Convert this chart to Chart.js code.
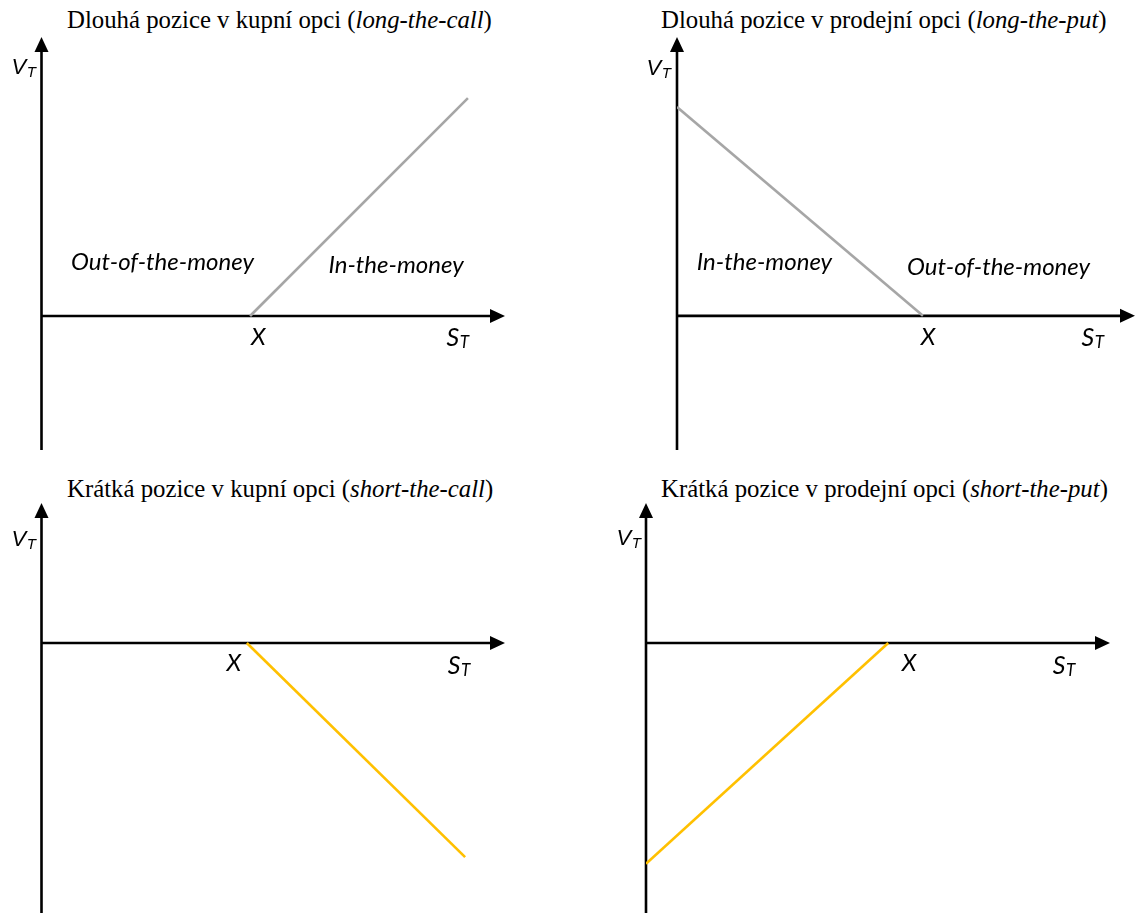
<!DOCTYPE html>
<html lang="cs">
<head>
<meta charset="utf-8">
<title>Výplatní profily opcí</title>
<script src="https://cdn.jsdelivr.net/npm/chart.js@4.4.1/dist/chart.umd.min.js"></script>
<style>
  html, body { margin: 0; padding: 0; background: #fff; }
  #board { position: relative; width: 1136px; height: 913px; overflow: hidden; }
  canvas { position: absolute; }
  .title {
    position: absolute; white-space: nowrap;
    font-family: "Liberation Serif", "Times New Roman", serif;
    font-size: 24.8px; line-height: 25px; color: #000;
  }
</style>
</head>
<body>
<div id="board">
  <div class="title" style="left:67px; top:7px;">Dlouhá pozice v kupní opci (<i>long-the-call</i>)</div>
  <div class="title" style="left:661px; top:7px;">Dlouhá pozice v prodejní opci (<i>long-the-put</i>)</div>
  <div class="title" style="left:67px; top:476px;">Krátká pozice v kupní opci (<i>short-the-call</i>)</div>
  <div class="title" style="left:661px; top:476px;">Krátká pozice v prodejní opci (<i>short-the-put</i>)</div>
  <canvas id="c1" width="568" height="460" style="left:0; top:0;"></canvas>
  <canvas id="c2" width="568" height="460" style="left:568px; top:0;"></canvas>
  <canvas id="c3" width="568" height="453" style="left:0; top:460px;"></canvas>
  <canvas id="c4" width="568" height="453" style="left:568px; top:460px;"></canvas>
</div>
<script>
// Payoff at expiry (V_T) against the underlying price at expiry (S_T).
// Units are schematic: the S axis runs 0–100 up to the arrow tip.
const longCallS  = [45, 92];
const longCallV  = [0, 47];
const longPutS   = [0, 53.7];
const longPutV   = [45.6, 0];
const shortCallS = [44.3, 91.4];
const shortCallV = [0, -46.2];
const shortPutS  = [0, 52.2];
const shortPutV  = [-47.6, 0];

// Where each panel puts the strike X
const strikes = [45, 53.7, 44.3, 52.2];

const axisLabels = { x: 'S', xSub: 'T', y: 'V', ySub: 'T', strike: 'X' };
const regionText = { itm: 'In-the-money', otm: 'Out-of-the-money' };

const GREY = '#a6a6a6';
const GOLD = '#ffc000';

function pts(xs, ys) { return xs.map((x, i) => ({ x: x, y: ys[i] })); }

// Draws text with a subscript; x is the left edge, y the baseline
function drawSub(ctx, main, sub, x, y, mainFont, subFont, subDrop) {
  ctx.textAlign = 'left';
  ctx.textBaseline = 'alphabetic';
  ctx.font = mainFont;
  ctx.fillText(main, x, y);
  const w = ctx.measureText(main).width;
  ctx.font = subFont;
  ctx.fillText(sub, x + w + 0.5, y + subDrop);
}
function subWidth(ctx, main, sub, mainFont, subFont) {
  ctx.font = mainFont;
  const a = ctx.measureText(main).width;
  ctx.font = subFont;
  return a + 0.5 + ctx.measureText(sub).width;
}

// Coordinate axes with arrow heads, plus the axis and region labels
const payoffAxes = {
  id: 'payoffAxes',
  beforeDatasetsDraw(chart) {
    const { ctx, chartArea: a, scales: { x, y } } = chart;
    const ox = x.getPixelForValue(0);
    const oy = y.getPixelForValue(0);
    const head = 15, half = 7;
    ctx.save();
    ctx.strokeStyle = '#000';
    ctx.fillStyle = '#000';
    ctx.lineWidth = 2.6;
    ctx.beginPath();
    ctx.moveTo(ox, a.bottom);
    ctx.lineTo(ox, a.top + head - 1);
    ctx.moveTo(ox, oy);
    ctx.lineTo(a.right - head + 1, oy);
    ctx.stroke();
    ctx.beginPath();
    ctx.moveTo(ox, a.top);
    ctx.lineTo(ox - half, a.top + head);
    ctx.lineTo(ox + half, a.top + head);
    ctx.closePath();
    ctx.fill();
    ctx.beginPath();
    ctx.moveTo(a.right, oy);
    ctx.lineTo(a.right - head, oy - half);
    ctx.lineTo(a.right - head, oy + half);
    ctx.closePath();
    ctx.fill();
    ctx.restore();
  },
  afterDraw(chart, args, opts) {
    const { ctx, chartArea: a, scales: { x, y } } = chart;
    const ox = x.getPixelForValue(0);
    ctx.save();
    ctx.fillStyle = '#000';
    const labelFont = 'italic 24px Lato, "Open Sans", sans-serif';

    // V_T beside the vertical arrow
    drawSub(ctx, axisLabels.y, axisLabels.ySub, ox + opts.vPos.dx, a.top + opts.vPos.dy,
      'italic 22px "Liberation Sans", Arial, sans-serif',
      'italic 15px "Liberation Sans", Arial, sans-serif', 3);

    // X under the strike
    ctx.font = 'italic 24px Lato, "Open Sans", sans-serif';
    ctx.textAlign = 'center';
    ctx.textBaseline = 'alphabetic';
    ctx.fillText(axisLabels.strike, x.getPixelForValue(opts.xLabel[0]), y.getPixelForValue(opts.xLabel[1]));

    // S_T near the horizontal arrow
    const sMain = 'italic 25px Lato, "Open Sans", sans-serif';
    const sSub = 'italic 17px Lato, "Open Sans", sans-serif';
    const sw = subWidth(ctx, axisLabels.x, axisLabels.xSub, sMain, sSub);
    drawSub(ctx, axisLabels.x, axisLabels.xSub,
      x.getPixelForValue(opts.sLabel[0]) - sw / 2, y.getPixelForValue(opts.sLabel[1]),
      sMain, sSub, 2);

    // Region names
    ctx.font = labelFont;
    ctx.textAlign = 'center';
    ctx.textBaseline = 'middle';
    (opts.regions || []).forEach(r => {
      ctx.fillText(regionText[r.key], x.getPixelForValue(r.at[0]), y.getPixelForValue(r.at[1]));
    });
    ctx.restore();
  }
};

function makePanel(id, series, color, view) {
  return new Chart(document.getElementById(id), {
    type: 'line',
    data: {
      datasets: [{
        data: series,
        borderColor: color,
        borderWidth: 2.6,
        pointRadius: 0,
        tension: 0,
        fill: false
      }]
    },
    options: {
      responsive: false,
      animation: false,
      events: [],
      layout: { padding: view.padding },
      scales: {
        x: { type: 'linear', min: 0, max: 100, display: false },
        y: { type: 'linear', min: view.yMin, max: view.yMax, display: false }
      },
      plugins: {
        legend: { display: false },
        tooltip: { enabled: false },
        title: { display: false },
        payoffAxes: view.labels
      }
    },
    plugins: [payoffAxes]
  });
}

makePanel('c1', pts(longCallS, longCallV), GREY, {
  padding: { left: 41.5, right: 63, top: 37, bottom: 10 },
  yMin: -28.9, yMax: 60.2,
  labels: {
    vPos: { dx: -30, dy: 37 },
    xLabel: [strikes[0] + 1.8, -6.2],
    sLabel: [89.8, -6.5],
    regions: [{ key: 'otm', at: [26.1, 11.6] }, { key: 'itm', at: [76.5, 11.0] }]
  }
});

makePanel('c2', pts(longPutS, longPutV), GREY, {
  padding: { left: 109, right: 1, top: 37, bottom: 10 },
  yMin: -29.3, yMax: 60.9,
  labels: {
    vPos: { dx: -30.5, dy: 38 },
    xLabel: [strikes[1] + 1.1, -6.3],
    sLabel: [90.8, -6.6],
    regions: [{ key: 'itm', at: [19.1, 11.6] }, { key: 'otm', at: [70.2, 10.7] }]
  }
});

makePanel('c3', pts(shortCallS, shortCallV), GOLD, {
  padding: { left: 41.5, right: 63, top: 43, bottom: 0 },
  yMin: -58.25, yMax: 30.2,
  labels: {
    vPos: { dx: -30, dy: 43 },
    xLabel: [strikes[2] - 2.8, -6.0],
    sLabel: [90.1, -6.6],
    regions: []
  }
});

makePanel('c4', pts(shortPutS, shortPutV), GOLD, {
  padding: { left: 78, right: 26, top: 43, bottom: 0 },
  yMin: -58.2, yMax: 30.2,
  labels: {
    vPos: { dx: -29.5, dy: 42 },
    xLabel: [strikes[3] + 4.5, -6.0],
    sLabel: [90.1, -6.6],
    regions: []
  }
});
</script>
</body>
</html>
